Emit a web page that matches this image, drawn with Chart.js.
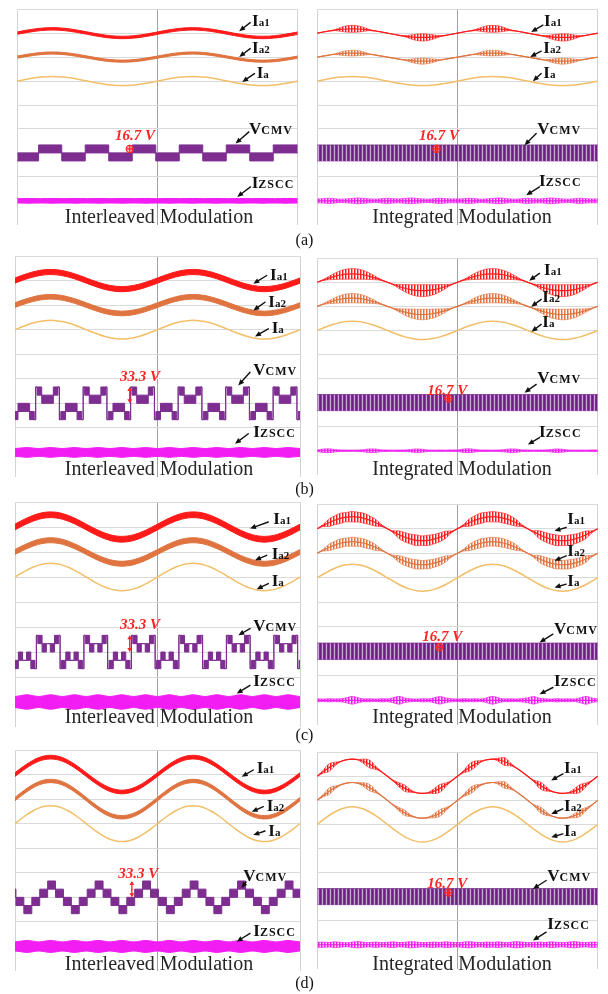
<!DOCTYPE html>
<html>
<head>
<meta charset="utf-8">
<script src="https://cdn.jsdelivr.net/npm/chart.js@4.4.1/dist/chart.umd.min.js"></script>
<style>
html,body{margin:0;padding:0;background:#fff}
body{position:relative;width:608px;height:994px;overflow:hidden;font-family:"Liberation Serif","Times New Roman",serif}
canvas{position:absolute}
.tag{position:absolute;display:flex;align-items:baseline;font-weight:bold;color:#111;white-space:nowrap;z-index:2}
.tag .m{font-size:17px;line-height:1}
.tag .s{font-size:11px;line-height:1}
.tag .c{font-size:12px;line-height:1;letter-spacing:1px}
.val{position:absolute;color:#ff2424;font-style:italic;font-weight:bold;font-size:15px;line-height:1;transform:translateY(-50%);white-space:nowrap;z-index:2}
.mod{position:absolute;font-size:20px;line-height:1;color:#262626;transform:translate(-50%,-50%);white-space:nowrap;z-index:2}
.cap{position:absolute;font-size:16px;line-height:1;color:#111;transform:translate(-50%,-50%);z-index:2}
</style>
</head>
<body>
<script>
// ---------- sampled time base (ms), 15 degree steps of the 50 Hz fundamental ----------
const sampleT = [0,0.83,1.67,2.5,3.33,4.17,5,5.83,6.67,7.5,8.33,9.17,
  10,10.83,11.67,12.5,13.33,14.17,15,15.83,16.67,17.5,18.33,19.17,
  20,20.83,21.67,22.5,23.33,24.17,25,25.83,26.67,27.5,28.33,29.17,
  30,30.83,31.67,32.5,33.33,34.17,35,35.83,36.67,37.5,38.33,39.17,40];

// ---------- fundamental currents (A) ----------
const ia1A = [0,.47,.9,1.27,1.56,1.74,1.8,1.74,1.56,1.27,.9,.47,
  0,-.47,-.9,-1.27,-1.56,-1.74,-1.8,-1.74,-1.56,-1.27,-.9,-.47,
  0,.47,.9,1.27,1.56,1.74,1.8,1.74,1.56,1.27,.9,.47,
  0,-.47,-.9,-1.27,-1.56,-1.74,-1.8,-1.74,-1.56,-1.27,-.9,-.47,0];
const ia2A = [0,.44,.85,1.2,1.47,1.64,1.7,1.64,1.47,1.2,.85,.44,
  0,-.44,-.85,-1.2,-1.47,-1.64,-1.7,-1.64,-1.47,-1.2,-.85,-.44,
  0,.44,.85,1.2,1.47,1.64,1.7,1.64,1.47,1.2,.85,.44,
  0,-.44,-.85,-1.2,-1.47,-1.64,-1.7,-1.64,-1.47,-1.2,-.85,-.44,0];
const iaA = [0,.49,.95,1.34,1.65,1.84,1.9,1.84,1.65,1.34,.95,.49,
  0,-.49,-.95,-1.34,-1.65,-1.84,-1.9,-1.84,-1.65,-1.34,-.95,-.49,
  0,.49,.95,1.34,1.65,1.84,1.9,1.84,1.65,1.34,.95,.49,
  0,-.49,-.95,-1.34,-1.65,-1.84,-1.9,-1.84,-1.65,-1.34,-.95,-.49,0];

const ia1B = [0,.91,1.75,2.47,3.03,3.38,3.5,3.38,3.03,2.47,1.75,.91,
  0,-.91,-1.75,-2.47,-3.03,-3.38,-3.5,-3.38,-3.03,-2.47,-1.75,-.91,
  0,.91,1.75,2.47,3.03,3.38,3.5,3.38,3.03,2.47,1.75,.91,
  0,-.91,-1.75,-2.47,-3.03,-3.38,-3.5,-3.38,-3.03,-2.47,-1.75,-.91,0];
const ia2B = [0,.88,1.7,2.4,2.94,3.28,3.4,3.28,2.94,2.4,1.7,.88,
  0,-.88,-1.7,-2.4,-2.94,-3.28,-3.4,-3.28,-2.94,-2.4,-1.7,-.88,
  0,.88,1.7,2.4,2.94,3.28,3.4,3.28,2.94,2.4,1.7,.88,
  0,-.88,-1.7,-2.4,-2.94,-3.28,-3.4,-3.28,-2.94,-2.4,-1.7,-.88,0];
const iaB = [0,.98,1.9,2.69,3.29,3.67,3.8,3.67,3.29,2.69,1.9,.98,
  0,-.98,-1.9,-2.69,-3.29,-3.67,-3.8,-3.67,-3.29,-2.69,-1.9,-.98,
  0,.98,1.9,2.69,3.29,3.67,3.8,3.67,3.29,2.69,1.9,.98,
  0,-.98,-1.9,-2.69,-3.29,-3.67,-3.8,-3.67,-3.29,-2.69,-1.9,-.98,0];

const ia1C = [0,1.27,2.45,3.46,4.24,4.73,4.9,4.73,4.24,3.46,2.45,1.27,
  0,-1.27,-2.45,-3.46,-4.24,-4.73,-4.9,-4.73,-4.24,-3.46,-2.45,-1.27,
  0,1.27,2.45,3.46,4.24,4.73,4.9,4.73,4.24,3.46,2.45,1.27,
  0,-1.27,-2.45,-3.46,-4.24,-4.73,-4.9,-4.73,-4.24,-3.46,-2.45,-1.27,0];
const ia2C = [0,1.22,2.35,3.32,4.07,4.54,4.7,4.54,4.07,3.32,2.35,1.22,
  0,-1.22,-2.35,-3.32,-4.07,-4.54,-4.7,-4.54,-4.07,-3.32,-2.35,-1.22,
  0,1.22,2.35,3.32,4.07,4.54,4.7,4.54,4.07,3.32,2.35,1.22,
  0,-1.22,-2.35,-3.32,-4.07,-4.54,-4.7,-4.54,-4.07,-3.32,-2.35,-1.22,0];
const iaC = [0,1.42,2.75,3.89,4.76,5.31,5.5,5.31,4.76,3.89,2.75,1.42,
  0,-1.42,-2.75,-3.89,-4.76,-5.31,-5.5,-5.31,-4.76,-3.89,-2.75,-1.42,
  0,1.42,2.75,3.89,4.76,5.31,5.5,5.31,4.76,3.89,2.75,1.42,
  0,-1.42,-2.75,-3.89,-4.76,-5.31,-5.5,-5.31,-4.76,-3.89,-2.75,-1.42,0];

const ia1D = [0,1.84,3.55,5.02,6.15,6.86,7.1,6.86,6.15,5.02,3.55,1.84,
  0,-1.84,-3.55,-5.02,-6.15,-6.86,-7.1,-6.86,-6.15,-5.02,-3.55,-1.84,
  0,1.84,3.55,5.02,6.15,6.86,7.1,6.86,6.15,5.02,3.55,1.84,
  0,-1.84,-3.55,-5.02,-6.15,-6.86,-7.1,-6.86,-6.15,-5.02,-3.55,-1.84,0];
const ia2D = [0,1.92,3.7,5.23,6.41,7.15,7.4,7.15,6.41,5.23,3.7,1.92,
  0,-1.92,-3.7,-5.23,-6.41,-7.15,-7.4,-7.15,-6.41,-5.23,-3.7,-1.92,
  0,1.92,3.7,5.23,6.41,7.15,7.4,7.15,6.41,5.23,3.7,1.92,
  0,-1.92,-3.7,-5.23,-6.41,-7.15,-7.4,-7.15,-6.41,-5.23,-3.7,-1.92,0];
const iaD = [0,1.89,3.65,5.16,6.32,7.05,7.3,7.05,6.32,5.16,3.65,1.89,
  0,-1.89,-3.65,-5.16,-6.32,-7.05,-7.3,-7.05,-6.32,-5.16,-3.65,-1.89,
  0,1.89,3.65,5.16,6.32,7.05,7.3,7.05,6.32,5.16,3.65,1.89,
  0,-1.89,-3.65,-5.16,-6.32,-7.05,-7.3,-7.05,-6.32,-5.16,-3.65,-1.89,0];

// ---------- switching ripple, peak-to-peak (A) ----------
// interleaved modulation: steady ripple band per case (a..d)
const ripLeftIa1 = [1.0, 2.1, 2.3, 1.5];
const ripLeftIa2 = [0.9, 1.9, 2.0, 1.4];

// integrated modulation: ripple envelope along the period
const rip1A = [0,0,0,.4,1.6,2.6,2.9,2.6,1.6,.4,0,0,
  0,0,0,.4,1.6,2.6,3.0,2.6,1.6,.4,0,0,
  0,0,0,.4,1.6,2.6,2.9,2.6,1.6,.4,0,0,
  0,0,0,.4,1.6,2.6,3.0,2.6,1.6,.4,0,0,0];
const rip2A = [0,0,0,.3,1.3,2.1,2.4,2.1,1.3,.3,0,0,
  0,0,0,.3,1.3,2.1,2.5,2.1,1.3,.3,0,0,
  0,0,0,.3,1.3,2.1,2.4,2.1,1.3,.3,0,0,
  0,0,0,.3,1.3,2.1,2.5,2.1,1.3,.3,0,0,0];
const rip1B = [0,.3,1.4,2.6,3.6,4.2,4.4,4.2,3.6,2.6,1.4,.3,
  0,.3,1.6,3.0,4.1,4.7,5.0,4.7,4.1,3.0,1.6,.3,
  0,.3,1.4,2.6,3.6,4.2,4.4,4.2,3.6,2.6,1.4,.3,
  0,.3,1.6,3.0,4.1,4.7,5.0,4.7,4.1,3.0,1.6,.3,0];
const rip2B = [0,.3,1.2,2.3,3.2,3.7,3.9,3.7,3.2,2.3,1.2,.3,
  0,.3,1.4,2.6,3.6,4.1,4.4,4.1,3.6,2.6,1.4,.3,
  0,.3,1.2,2.3,3.2,3.7,3.9,3.7,3.2,2.3,1.2,.3,
  0,.3,1.4,2.6,3.6,4.1,4.4,4.1,3.6,2.6,1.4,.3,0];
const rip1C = [0,.8,3.0,3.6,4.2,3.8,4.3,3.9,4.1,3.5,2.8,.8,
  0,.9,3.1,3.8,4.0,4.4,3.9,4.2,3.8,3.6,2.9,.7,
  0,.8,3.0,3.7,4.3,3.9,4.2,4.0,4.1,3.6,2.8,.8,
  0,.9,3.2,3.8,4.1,4.4,4.0,4.3,3.9,3.7,3.0,.8,0];
const rip2C = [0,.7,2.6,3.1,3.6,3.3,3.7,3.4,3.5,3.1,2.4,.7,
  0,.8,2.7,3.3,3.5,3.8,3.4,3.6,3.3,3.1,2.5,.6,
  0,.7,2.6,3.2,3.7,3.4,3.6,3.5,3.5,3.1,2.4,.7,
  0,.8,2.8,3.3,3.5,3.8,3.5,3.7,3.4,3.2,2.6,.7,0];
const rip1D = [0,1.2,3.2,1.6,0,0,0,.3,2.0,3.2,1.4,0,
  0,.3,1.8,2.6,1.0,0,0,.3,2.0,3.2,1.6,0,
  0,.8,3.0,2.6,.6,0,0,1.4,3.2,1.4,0,0,
  0,.4,2.8,2.2,.2,0,0,.3,2.0,3.2,1.6,.2,0];
const rip2D = [0,1.0,2.7,1.4,0,0,0,.3,1.7,2.7,1.2,0,
  0,.3,1.5,2.2,.8,0,0,.3,1.7,2.7,1.4,0,
  0,.7,2.6,2.2,.5,0,0,1.2,2.7,1.2,0,0,
  0,.3,2.4,1.9,.2,0,0,.3,1.7,2.7,1.4,.2,0];

// ---------- zero-sequence circulating current, peak-to-peak (A) ----------
const zbandA = [1.8,1.9,2.0,1.9,1.8,1.9,2.0,1.9,1.8,1.9,2.0,1.9,
  1.8,1.9,2.0,1.9,1.8,1.9,2.0,1.9,1.8,1.9,2.0,1.9,
  1.8,1.9,2.0,1.9,1.8,1.9,2.0,1.9,1.8,1.9,2.0,1.9,
  1.8,1.9,2.0,1.9,1.8,1.9,2.0,1.9,1.8,1.9,2.0,1.9,1.8];
const zbandB = [3.2,3.6,4.0,3.6,3.2,3.6,4.0,3.6,3.2,3.6,4.0,3.6,
  3.2,3.6,4.0,3.6,3.2,3.6,4.0,3.6,3.2,3.6,4.0,3.6,
  3.2,3.6,4.0,3.6,3.2,3.6,4.0,3.6,3.2,3.6,4.0,3.6,
  3.2,3.6,4.0,3.6,3.2,3.6,4.0,3.6,3.2,3.6,4.0,3.6,3.2];
const zbandC = [4.4,5.1,5.8,5.1,4.4,5.1,5.8,5.1,4.4,5.1,5.8,5.1,
  4.4,5.1,5.8,5.1,4.4,5.1,5.8,5.1,4.4,5.1,5.8,5.1,
  4.4,5.1,5.8,5.1,4.4,5.1,5.8,5.1,4.4,5.1,5.8,5.1,
  4.4,5.1,5.8,5.1,4.4,5.1,5.8,5.1,4.4,5.1,5.8,5.1,4.4];
const zbandD = [3.7,4.3,4.9,4.3,3.7,4.3,4.9,4.3,3.7,4.3,4.9,4.3,
  3.7,4.3,4.9,4.3,3.7,4.3,4.9,4.3,3.7,4.3,4.9,4.3,
  3.7,4.3,4.9,4.3,3.7,4.3,4.9,4.3,3.7,4.3,4.9,4.3,
  3.7,4.3,4.9,4.3,3.7,4.3,4.9,4.3,3.7,4.3,4.9,4.3,3.7];
const zripA = [1.6,1.8,2.2,1.8,1.4,1.6,2.0,2.4,2.0,1.6,1.4,1.8,
  2.2,1.8,1.6,2.0,2.4,2.0,1.6,1.4,1.8,2.2,1.8,1.6,
  1.6,1.8,2.2,1.8,1.4,1.6,2.0,2.4,2.0,1.6,1.4,1.8,
  2.2,1.8,1.6,2.0,2.4,2.0,1.6,1.4,1.8,2.2,1.8,1.6,1.6];
const zripB = [.6,1.4,1.6,1.0,.6,.6,.5,.6,.9,1.5,1.4,.7,
  .6,.5,.6,.6,1.0,1.5,1.2,.6,.5,.6,.5,.7,
  .6,1.4,1.6,1.0,.6,.6,.5,.6,.9,1.5,1.4,.7,
  .6,.5,.6,.6,1.0,1.5,1.2,.6,.5,.6,.5,.7,.6];
const zripC = [1.2,1.0,1.3,1.1,1.2,2.0,3.2,2.0,1.1,1.2,1.0,1.3,
  1.1,2.0,3.2,1.8,1.2,1.0,1.3,1.1,2.0,3.1,1.9,1.2,
  1.0,1.3,1.1,1.2,1.0,2.0,3.2,2.0,1.1,1.2,1.0,1.3,
  2.0,3.1,1.8,1.2,1.0,1.3,1.1,1.2,1.0,2.0,3.2,1.8,1.2];
const zripD = [2.0,2.2,1.8,2.4,2.0,1.6,2.2,2.6,2.0,1.8,2.2,1.8,
  2.0,2.4,1.8,2.0,2.6,2.2,1.8,2.0,2.2,1.8,2.4,2.0,
  1.8,2.2,2.6,2.0,1.8,2.2,2.0,2.4,1.8,2.0,2.6,2.2,
  1.8,2.0,2.2,1.8,2.4,2.0,1.8,2.2,2.6,2.0,1.8,2.2,2.0];

// ---------- common-mode voltage (V): segment start times (ms), upper / lower switching levels ----------
const vcmvA_t  = [0,3.05,6.35,9.7,13.05,16.4,19.75,23.1,26.45,29.8,33.15,36.5,40];
const vcmvA_hi = [0,16.7,0,16.7,0,16.7,0,16.7,0,16.7,0,16.7];
const vcmvA_lo = [-16.7,0,-16.7,0,-16.7,0,-16.7,0,-16.7,0,-16.7,0];

const vcmvB_t = [0,0.42,2.05,2.70,
  2.90,3.10,3.75,5.38,6.03, 6.23,6.43,7.08,8.71,9.36,
  9.57,9.77,10.42,12.05,12.70, 12.90,13.10,13.75,15.38,16.03,
  16.23,16.43,17.08,18.71,19.36, 19.57,19.77,20.42,22.05,22.70,
  22.90,23.10,23.75,25.38,26.03, 26.23,26.43,27.08,28.71,29.36,
  29.57,29.77,30.42,32.05,32.70, 32.90,33.10,33.75,35.38,36.03,
  36.23,36.43,37.08,38.71,39.36, 39.57,39.77,40];
const vcmvB_hi = [-16.7,0,-16.7,-33.3,
  33.3,33.3,16.7,33.3,33.3, -33.3,-16.7,0,-16.7,-33.3,
  33.3,33.3,16.7,33.3,33.3, -33.3,-16.7,0,-16.7,-33.3,
  33.3,33.3,16.7,33.3,33.3, -33.3,-16.7,0,-16.7,-33.3,
  33.3,33.3,16.7,33.3,33.3, -33.3,-16.7,0,-16.7,-33.3,
  33.3,33.3,16.7,33.3,33.3, -33.3,-16.7,0,-16.7,-33.3,
  33.3,33.3,16.7,33.3,33.3, -33.3,-16.7];
const vcmvB_lo = [-33.3,-16.7,-33.3,-33.3,
  33.3,16.7,0,16.7,33.3, -33.3,-33.3,-16.7,-33.3,-33.3,
  33.3,16.7,0,16.7,33.3, -33.3,-33.3,-16.7,-33.3,-33.3,
  33.3,16.7,0,16.7,33.3, -33.3,-33.3,-16.7,-33.3,-33.3,
  33.3,16.7,0,16.7,33.3, -33.3,-33.3,-16.7,-33.3,-33.3,
  33.3,16.7,0,16.7,33.3, -33.3,-33.3,-16.7,-33.3,-33.3,
  33.3,16.7,0,16.7,33.3, -33.3,-33.3];

const vcmvC_t = [0,0.47,1.07,1.62,2.22,2.80,
  3.00,3.20,3.80,4.40,4.95,5.55,6.13, 6.33,6.53,7.13,7.73,8.28,8.88,9.46,
  9.67,9.87,10.47,11.07,11.62,12.22,12.80, 13.00,13.20,13.80,14.40,14.95,15.55,16.13,
  16.33,16.53,17.13,17.73,18.28,18.88,19.46, 19.67,19.87,20.47,21.07,21.62,22.22,22.80,
  23.00,23.20,23.80,24.40,24.95,25.55,26.13, 26.33,26.53,27.13,27.73,28.28,28.88,29.46,
  29.67,29.87,30.47,31.07,31.62,32.22,32.80, 33.00,33.20,33.80,34.40,34.95,35.55,36.13,
  36.33,36.53,37.13,37.73,38.28,38.88,39.46, 39.67,39.87,40];
const vcmvC_hi = [-16.7,0,-16.7,0,-16.7,-33.3,
  33.3,33.3,16.7,16.7,16.7,33.3,33.3, -33.3,-16.7,0,-16.7,0,-16.7,-33.3,
  33.3,33.3,16.7,16.7,16.7,33.3,33.3, -33.3,-16.7,0,-16.7,0,-16.7,-33.3,
  33.3,33.3,16.7,16.7,16.7,33.3,33.3, -33.3,-16.7,0,-16.7,0,-16.7,-33.3,
  33.3,33.3,16.7,16.7,16.7,33.3,33.3, -33.3,-16.7,0,-16.7,0,-16.7,-33.3,
  33.3,33.3,16.7,16.7,16.7,33.3,33.3, -33.3,-16.7,0,-16.7,0,-16.7,-33.3,
  33.3,33.3,16.7,16.7,16.7,33.3,33.3, -33.3,-16.7];
const vcmvC_lo = [-33.3,-16.7,-16.7,-16.7,-33.3,-33.3,
  33.3,16.7,0,16.7,0,16.7,33.3, -33.3,-33.3,-16.7,-16.7,-16.7,-33.3,-33.3,
  33.3,16.7,0,16.7,0,16.7,33.3, -33.3,-33.3,-16.7,-16.7,-16.7,-33.3,-33.3,
  33.3,16.7,0,16.7,0,16.7,33.3, -33.3,-33.3,-16.7,-16.7,-16.7,-33.3,-33.3,
  33.3,16.7,0,16.7,0,16.7,33.3, -33.3,-33.3,-16.7,-16.7,-16.7,-33.3,-33.3,
  33.3,16.7,0,16.7,0,16.7,33.3, -33.3,-33.3,-16.7,-16.7,-16.7,-33.3,-33.3,
  33.3,16.7,0,16.7,0,16.7,33.3, -33.3,-33.3];

const vcmvD_t = [0,0.13,1.24,2.36,3.47,4.58,5.69,6.80,7.91,9.02,10.13,11.24,12.36,
  13.47,14.58,15.69,16.80,17.91,19.02,20.13,21.24,22.36,23.47,24.58,25.69,
  26.80,27.91,29.02,30.13,31.24,32.36,33.47,34.58,35.69,36.80,37.91,39.02,40];
const vcmvD_hi = [16.7, 0,-16.7,0,16.7,33.3,16.7, 0,-16.7,0,16.7,33.3,16.7,
  0,-16.7,0,16.7,33.3,16.7, 0,-16.7,0,16.7,33.3,16.7,
  0,-16.7,0,16.7,33.3,16.7, 0,-16.7,0,16.7,33.3,16.7];
const vcmvD_lo = [0, -16.7,-33.3,-16.7,0,16.7,0, -16.7,-33.3,-16.7,0,16.7,0,
  -16.7,-33.3,-16.7,0,16.7,0, -16.7,-33.3,-16.7,0,16.7,0,
  -16.7,-33.3,-16.7,0,16.7,0, -16.7,-33.3,-16.7,0,16.7,0];

// integrated modulation: CMV toggles between +/-16.7 V over the whole window
const vcmvBand_t  = [0, 40];
const vcmvBand_hi = [16.7, 16.7];
const vcmvBand_lo = [-16.7, -16.7];

// ---------- annotated values ----------
const stepLabel = ['16.7 V', '33.3 V'];
const markAL = {t:16.05, v:8.35}, markAR = {t:17.0, v:8.35}, markBR = {t:18.7, v:8.35},
      markCR = {t:17.4, v:8.35}, markDR = {t:18.7, v:8.35};
const spanBL = {t:16.1, from:0, to:33.3}, spanCL = {t:16.1, from:0, to:33.3}, spanDL = {t:16.4, from:0, to:33.3};

// ---------- page layout ----------
const rowTop = [7.3, 255.5, 501.7, 750];
const rowDiv = [24.4, 24.5, 25.0, 24.6];
const colX = [15, 315];
const caseNames = ['(a)', '(b)', '(c)', '(d)'];
const modNames = ['Interleaved Modulation', 'Integrated Modulation'];
const modPos = [[144, 209], [147, 212], [147, 213.5], [147, 212.5]];

const COL = {ia1:'#ff1a1a', ia2:'#e07440', ia:'#f2bf68', v:'#7d2e90', z:'#f21df2', red:'#ff2424'};

// [main, subscript, x, capTop, arrowTailX, arrowTailY, arrowTipX, arrowTipY] in panel pixels
const tagLayout = [
  [['I','a1',237,7.7,233,13.4,222,22],['I','a2',237,34.7,233,39.4,222,47.7],['I','a',241.7,59.7,237.3,64.4,225,72.7],
   ['V','CMV',234,115.7,231.7,122.7,218.3,134.4],['I','ZSCC',236.7,169.7,233.3,177.7,220,187.7]],
  [['I','a1',229,7.7,225.7,16,214,22.7],['I','a2',228.3,34.7,224,42,213,47.7],['I','a',228.3,59.7,224,64.4,215.7,72],
   ['V','CMV',222.3,115.7,219,124.4,207.3,136],['I','ZSCC',224,167.7,222.3,177.7,209,186]],
  [['I','a1',255,12.5,251.7,19.5,238.3,27.8],['I','a2',253.3,39.5,250,46.2,238.3,54.5],['I','a',256.7,66.2,253.3,72.8,240,80.5],
   ['V','CMV',238.3,107.8,235,116.2,223.3,129.5],['I','ZSCC',238.3,169.5,233.3,177.8,220,187.8]],
  [['I','a1',229,7.5,222.3,15.2,212,22.5],['I','a2',227.3,34.5,224,41.2,214,48.5],['I','a',227.3,59.5,224,66.2,214.3,73.5],
   ['V','CMV',222.3,116.2,219,126.2,207.3,134.5],['I','ZSCC',224,169.5,222.3,179.5,210.7,186.2]],
  [['I','a1',258.3,11.3,253.3,20,235,26.6],['I','a2',256.7,46.3,251.7,53.3,240,58.3],['I','a',256.7,73.3,253.3,81.6,241.7,87.3],
   ['V','CMV',238.3,118.3,235,126.6,223.3,133.3],['I','ZSCC',238.3,173.3,235,183.3,221.7,191.6]],
  [['I','a1',252.3,11.3,249,23.3,237.3,26.6],['I','a2',252.3,43.3,249,51.6,237.3,56.6],['I','a',252.3,73.3,249,80,237.3,83.3],
   ['V','CMV',239,121.3,235.7,130,222.3,138.3],['I','ZSCC',239,173.3,235.7,183.3,222.3,190]],
  [['I','a1',241.7,11.7,238.3,20,226.7,26.7],['I','a2',251.7,50,248.3,56.7,236.7,61.7],['I','a',253.3,75,250,81,238.3,85],
   ['V','CMV',228.3,120,231,132,226.5,138],['I','ZSCC',238.3,175,235,183.3,221.7,191.7]],
  [['I','a1',249,11.7,245.7,21.7,234,28.3],['I','a2',249,50,245.7,56.7,234,61.7],['I','a',249,75,245.7,81.7,234,85],
   ['V','CMV',232.3,120,229,128.3,215.7,136.7],['I','ZSCC',232.3,168,229,180,215.7,188.3]]
];
// value text position [x, centreY] in panel pixels
const valPos = [[100,127.7],[104,127.7],[105,120.3],[112.3,133.5],[105,122.3],[107.3,134.3],[103.3,123],[112.3,133]];

const panels = [
  {row:0,col:0, ia1:ia1A, ia2:ia2A, ia:iaA, r1:ripLeftIa1[0], r2:ripLeftIa2[0], z:zbandA, vt:vcmvA_t, vh:vcmvA_hi, vl:vcmvA_lo, mark:markAL, span:null, label:stepLabel[0]},
  {row:0,col:1, ia1:ia1A, ia2:ia2A, ia:iaA, r1:rip1A, r2:rip2A, z:zripA, vt:vcmvBand_t, vh:vcmvBand_hi, vl:vcmvBand_lo, mark:markAR, span:null, label:stepLabel[0]},
  {row:1,col:0, ia1:ia1B, ia2:ia2B, ia:iaB, r1:ripLeftIa1[1], r2:ripLeftIa2[1], z:zbandB, vt:vcmvB_t, vh:vcmvB_hi, vl:vcmvB_lo, mark:null, span:spanBL, label:stepLabel[1]},
  {row:1,col:1, ia1:ia1B, ia2:ia2B, ia:iaB, r1:rip1B, r2:rip2B, z:zripB, vt:vcmvBand_t, vh:vcmvBand_hi, vl:vcmvBand_lo, mark:markBR, span:null, label:stepLabel[0]},
  {row:2,col:0, ia1:ia1C, ia2:ia2C, ia:iaC, r1:ripLeftIa1[2], r2:ripLeftIa2[2], z:zbandC, vt:vcmvC_t, vh:vcmvC_hi, vl:vcmvC_lo, mark:null, span:spanCL, label:stepLabel[1]},
  {row:2,col:1, ia1:ia1C, ia2:ia2C, ia:iaC, r1:rip1C, r2:rip2C, z:zripC, vt:vcmvBand_t, vh:vcmvBand_hi, vl:vcmvBand_lo, mark:markCR, span:null, label:stepLabel[0]},
  {row:3,col:0, ia1:ia1D, ia2:ia2D, ia:iaD, r1:ripLeftIa1[3], r2:ripLeftIa2[3], z:zbandD, vt:vcmvD_t, vh:vcmvD_hi, vl:vcmvD_lo, mark:null, span:spanDL, label:stepLabel[1]},
  {row:3,col:1, ia1:ia1D, ia2:ia2D, ia:iaD, r1:rip1D, r2:rip2D, z:zripD, vt:vcmvBand_t, vh:vcmvBand_hi, vl:vcmvBand_lo, mark:markDR, span:null, label:stepLabel[0]}
];

// ---------- helpers ----------
const at = (v, i) => Array.isArray(v) ? v[i] : v;
const pts = (t, c) => t.map((x, i) => ({x, y: at(c, i)}));
const env = (t, c, r, s) => t.map((x, i) => ({x, y: at(c, i) + s * at(r, i) / 2}));
const stepPts = (t, v) => t.map((x, i) => ({x, y: v[Math.min(i, v.length - 1)]}));

function stripe(cols) {
  const c = document.createElement('canvas');
  c.width = cols.length; c.height = 2;
  const g = c.getContext('2d');
  cols.forEach((col, i) => { g.fillStyle = col; g.fillRect(i, 0, 1, 2); });
  return g.createPattern(c, 'repeat');
}
const PAT = {
  ia1: stripe(['#ff1a1a', 'rgba(255,60,60,0.55)', 'rgba(255,255,255,0)']),
  ia2: stripe(['#e07440', 'rgba(224,116,64,0.5)', 'rgba(255,255,255,0)']),
  v:   stripe(['#6c2182', '#8a3f9f', '#c9a5d6', '#7d2e90']),
  z:   stripe(['#f21df2', 'rgba(242,29,242,0.6)', 'rgba(242,29,242,0.15)'])
};

function lineDs(data, axis, color, width, extra) {
  return Object.assign({data, yAxisID: axis, borderColor: color, borderWidth: width,
    pointRadius: 0, pointHoverRadius: 0, fill: false, cubicInterpolationMode: 'monotone'}, extra || {});
}
function bandDs(upper, lower, axis, color, fill, width, extra) {
  return [lineDs(upper, axis, color, width, Object.assign({fill: '+1', backgroundColor: fill}, extra || {})),
          lineDs(lower, axis, color, width, extra)];
}
const chan = (d, s) => ({type: 'linear', display: false, min: -(9 - d) * s, max: d * s});

function drawArrow(g, x1, y1, x2, y2, color, w, len, half) {
  const a = Math.atan2(y2 - y1, x2 - x1), ca = Math.cos(a), sa = Math.sin(a);
  g.save();
  g.strokeStyle = color; g.fillStyle = color; g.lineWidth = w; g.lineCap = 'round';
  g.beginPath(); g.moveTo(x1, y1); g.lineTo(x2 - len * 0.6 * ca, y2 - len * 0.6 * sa); g.stroke();
  g.beginPath();
  g.moveTo(x2, y2);
  g.lineTo(x2 - len * ca + half * sa, y2 - len * sa - half * ca);
  g.lineTo(x2 - len * ca - half * sa, y2 - len * sa + half * ca);
  g.closePath(); g.fill();
  g.restore();
}

const notes = {
  id: 'notes',
  afterDatasetsDraw(chart, args, opts) {
    const g = chart.ctx, a = chart.chartArea;
    (opts.arrows || []).forEach(r => drawArrow(g, a.left + r[4], a.top + r[5], a.left + r[6], a.top + r[7], '#111', 1.4, 6, 2.6));
    if (opts.span) {
      const x = chart.scales.x.getPixelForValue(opts.span.t);
      const y0 = chart.scales.yV.getPixelForValue(opts.span.from);
      const y1 = chart.scales.yV.getPixelForValue(opts.span.to);
      const m = (y0 + y1) / 2;
      drawArrow(g, x, m, x, y1, COL.red, 1.3, 4, 2.4);
      drawArrow(g, x, m, x, y0, COL.red, 1.3, 4, 2.4);
    }
  }
};

function buildPanel(p, idx) {
  const P = 3, W = 285;
  const top = Math.round(rowTop[p.row]), H = Math.round(rowDiv[p.row] * 9), left = colX[p.col];
  const cv = document.createElement('canvas');
  cv.width = W + 2 * P; cv.height = H + 2 * P;
  cv.style.left = (left - P) + 'px'; cv.style.top = (top - P) + 'px';
  cv.style.width = (W + 2 * P) + 'px'; cv.style.height = (H + 2 * P) + 'px';
  document.body.appendChild(cv);

  const integrated = p.col === 1;
  const ds = [];
  if (p.mark) {
    const m = [{x: p.mark.t, y: p.mark.v}];
    ds.push({data: m, yAxisID: 'yV', showLine: false, pointStyle: 'cross', pointRadius: 3.6, borderColor: COL.red, borderWidth: 1.2});
    ds.push({data: m, yAxisID: 'yV', showLine: false, pointStyle: 'circle', pointRadius: 3.6, borderColor: COL.red, backgroundColor: 'rgba(255,60,60,0.35)', borderWidth: 1.2});
  }
  // common-mode voltage
  if (integrated) {
    ds.push(...bandDs(stepPts(p.vt, p.vh), stepPts(p.vt, p.vl), 'yV', COL.v, PAT.v, 0.8, {stepped: true}));
  } else {
    ds.push(...bandDs(stepPts(p.vt, p.vh), stepPts(p.vt, p.vl), 'yV', COL.v, COL.v, 1, {stepped: true}));
  }
  // zero-sequence circulating current
  if (integrated) {
    ds.push(...bandDs(env(sampleT, 0, p.z, 1), env(sampleT, 0, p.z, -1), 'yZ', 'rgba(242,29,242,0.8)', PAT.z, 0.9));
    ds.push(lineDs(pts(vcmvBand_t, 0), 'yZ', COL.z, 1.2));
  } else {
    ds.push(...bandDs(env(sampleT, 0, p.z, 1), env(sampleT, 0, p.z, -1), 'yZ', COL.z, COL.z, 1));
  }
  // arm currents and phase current
  if (integrated) {
    ds.push(...bandDs(env(sampleT, p.ia1, p.r1, 1), env(sampleT, p.ia1, p.r1, -1), 'yIa1', 'rgba(255,26,26,0.75)', PAT.ia1, 0.8));
    ds.push(lineDs(pts(sampleT, p.ia1), 'yIa1', COL.ia1, 1.2));
    ds.push(...bandDs(env(sampleT, p.ia2, p.r2, 1), env(sampleT, p.ia2, p.r2, -1), 'yIa2', 'rgba(224,116,64,0.75)', PAT.ia2, 0.8));
    ds.push(lineDs(pts(sampleT, p.ia2), 'yIa2', COL.ia2, 1.2));
  } else {
    ds.push(...bandDs(env(sampleT, p.ia1, p.r1, 1), env(sampleT, p.ia1, p.r1, -1), 'yIa1', COL.ia1, COL.ia1, 1));
    ds.push(...bandDs(env(sampleT, p.ia2, p.r2, 1), env(sampleT, p.ia2, p.r2, -1), 'yIa2', COL.ia2, COL.ia2, 1));
  }
  ds.push(lineDs(pts(sampleT, p.ia), 'yIa', COL.ia, 1.5));

  new Chart(cv, {
    type: 'line',
    data: {datasets: ds},
    options: {
      responsive: false, animation: false, devicePixelRatio: 1, events: [],
      layout: {padding: P},
      plugins: {legend: {display: false}, tooltip: {enabled: false}, title: {display: false},
        notes: {arrows: tagLayout[idx], span: p.span}},
      scales: {
        x: {type: 'linear', min: 0, max: 40,
            ticks: {display: false, stepSize: 20},
            grid: {drawTicks: false, lineWidth: 1, color: c => (c.tick && c.tick.value === 20) ? '#a2a2a2' : '#d3d3d3'},
            border: {display: false}},
        yg: {type: 'linear', position: 'left', min: 0, max: 9, reverse: true,
             ticks: {display: false, stepSize: 1},
             grid: {drawTicks: false, lineWidth: 1, color: c => (c.tick && c.tick.value > 8.5) ? 'rgba(0,0,0,0)' : '#dadada'},
             border: {display: false}},
        yIa1: chan(1, 10), yIa2: chan(2, 10), yIa: chan(3, 10), yV: chan(6, 50), yZ: chan(8, 10)
      }
    },
    plugins: [notes]
  });

  // text: channel names, value callout, modulation name
  tagLayout[idx].forEach(r => {
    const d = document.createElement('div');
    d.className = 'tag';
    d.style.left = (left + r[2]) + 'px';
    d.style.top = (top + r[3] - 3) + 'px';
    const subCls = (r[1] === 'CMV' || r[1] === 'ZSCC') ? 'c' : 's';
    d.innerHTML = '<span class="m">' + r[0] + '</span><span class="' + subCls + '">' + r[1] + '</span>';
    document.body.appendChild(d);
  });
  const v = document.createElement('div');
  v.className = 'val';
  v.textContent = p.label;
  v.style.left = (left + valPos[idx][0]) + 'px';
  v.style.top = (top + valPos[idx][1]) + 'px';
  document.body.appendChild(v);

  const mName = document.createElement('div');
  mName.className = 'mod';
  mName.textContent = modNames[p.col];
  mName.style.left = (left + (p.col === 0 ? 144 : 147)) + 'px';
  mName.style.top = (top + modPos[p.row][1]) + 'px';
  document.body.appendChild(mName);
}

panels.forEach(buildPanel);

caseNames.forEach((c, i) => {
  const d = document.createElement('div');
  d.className = 'cap';
  d.textContent = c;
  d.style.left = '304.5px';
  d.style.top = (Math.round(rowTop[i]) + 232.5) + 'px';
  document.body.appendChild(d);
});
</script>
</body>
</html>
